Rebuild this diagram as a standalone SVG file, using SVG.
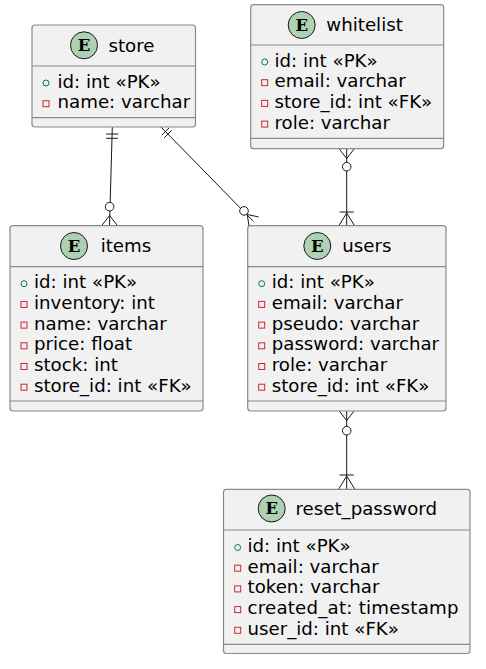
<svg xmlns="http://www.w3.org/2000/svg" width="486" height="669" viewBox="0 0 486 669">
<style>
.box{fill:#F1F1F1;stroke:#8a8a8a;stroke-width:1.2}
.sep{stroke:#8a8a8a;stroke-width:1.2}
.ic{fill:#ADD1B2;stroke:#181818;stroke-width:1}
.E{font-family:"DejaVu Serif",serif;font-weight:bold;font-size:16.5px;fill:#000;text-anchor:middle}
.t{font-family:"DejaVu Sans",sans-serif;font-size:18.2px;fill:#000}
.a{font-family:"DejaVu Sans",sans-serif;font-size:18.2px;fill:#000}
.pk{fill:none;stroke:#038048;stroke-width:1}
.pv{fill:none;stroke:#C82930;stroke-width:1}
.c{fill:none;stroke:#181818;stroke-width:1}
.cc{fill:#fff;stroke:#181818;stroke-width:1}
</style>
<rect width="486" height="669" fill="#fff"/>
<g id="connectors">
  <!-- store -> items -->
  <path class="c" d="M112.3,127 L109.5,226"/>
  <path class="c" d="M106.2,134 L118.2,134 M106.1,138.3 L118.1,138.3"/>
  <path class="c" d="M101.3,226 L109.6,215.5 L117.8,226"/>
  <circle class="cc" cx="109.6" cy="206.7" r="4.3"/>
  <!-- store -> users -->
  <path class="c" d="M161,127 L253.5,221.5"/>
  <path class="c" d="M161.8,135.2 L169.2,127.8 M164.3,137.7 L171.7,130.3"/>
  <path class="c" d="M249,226.3 L247.3,214.5 L258.5,216.9"/>
  <circle class="cc" cx="244" cy="210.9" r="4.3"/>
  <!-- whitelist -> users -->
  <path class="c" d="M346.7,149 L346.7,226"/>
  <path class="c" d="M339.3,149 L346.7,158.5 L354.1,149"/>
  <circle class="cc" cx="346.7" cy="166.7" r="4.3"/>
  <path class="c" d="M339.6,212 L353.8,212"/>
  <path class="c" d="M338.7,226 L346.7,213 L354.7,226"/>
  <!-- users -> reset_password -->
  <path class="c" d="M346.7,411 L346.7,489"/>
  <path class="c" d="M339.3,411 L346.7,420.5 L354.1,411"/>
  <circle class="cc" cx="346.7" cy="430.7" r="4.3"/>
  <path class="c" d="M339.6,475 L353.8,475"/>
  <path class="c" d="M338.7,489 L346.7,476 L354.7,489"/>
</g>
<g id="store">
  <rect class="box" x="32" y="25" width="163.5" height="102" rx="3"/>
  <path class="sep" d="M32,66 H195.5 M32,117.7 H195.5"/>
  <circle class="ic" cx="84" cy="45.3" r="13.5"/>
  <text class="E" x="84" y="51.2">E</text>
  <text class="t" x="108.5" y="51.5">store</text>
  <circle class="pk" cx="46" cy="83" r="3"/>
  <text class="a" x="57.5" y="87.5">id: int «PK»</text>
  <rect class="pv" x="43" y="100.7" width="6" height="6"/>
  <text class="a" x="57.5" y="108.2">name: varchar</text>
</g>
<g id="whitelist">
  <rect class="box" x="250.7" y="4.7" width="193" height="144" rx="3"/>
  <path class="sep" d="M250.7,45 H443.7 M250.7,138.3 H443.7"/>
  <circle class="ic" cx="301.7" cy="25" r="13.5"/>
  <text class="E" x="301.7" y="30.9">E</text>
  <text class="t" x="326.3" y="31.2">whitelist</text>
  <circle class="pk" cx="264.7" cy="62" r="3"/>
  <text class="a" x="274.5" y="66.5">id: int «PK»</text>
  <rect class="pv" x="261.7" y="79.7" width="6" height="6"/>
  <text class="a" x="274.5" y="87.2">email: varchar</text>
  <rect class="pv" x="261.7" y="100.4" width="6" height="6"/>
  <text class="a" x="274.5" y="107.9">store_id: int «FK»</text>
  <rect class="pv" x="261.7" y="121.1" width="6" height="6"/>
  <text class="a" x="274.5" y="128.6">role: varchar</text>
</g>
<g id="items">
  <rect class="box" x="10" y="225.7" width="193" height="185.3" rx="3"/>
  <path class="sep" d="M10,266.7 H203 M10,401 H203"/>
  <circle class="ic" cx="74" cy="246" r="13.5"/>
  <text class="E" x="74" y="251.9">E</text>
  <text class="t" x="100.7" y="252.2">items</text>
  <circle class="pk" cx="24" cy="283.7" r="3"/>
  <text class="a" x="34" y="288.2">id: int «PK»</text>
  <rect class="pv" x="21" y="301.4" width="6" height="6"/>
  <text class="a" x="34" y="308.9">inventory: int</text>
  <rect class="pv" x="21" y="322.1" width="6" height="6"/>
  <text class="a" x="34" y="329.6">name: varchar</text>
  <rect class="pv" x="21" y="342.8" width="6" height="6"/>
  <text class="a" x="34" y="350.3">price: float</text>
  <rect class="pv" x="21" y="363.5" width="6" height="6"/>
  <text class="a" x="34" y="371">stock: int</text>
  <rect class="pv" x="21" y="384.2" width="6" height="6"/>
  <text class="a" x="34" y="391.7">store_id: int «FK»</text>
</g>
<g id="users">
  <rect class="box" x="247.7" y="225.7" width="198.3" height="185.3" rx="3"/>
  <path class="sep" d="M247.7,266.7 H446 M247.7,401 H446"/>
  <circle class="ic" cx="317.3" cy="246" r="13.5"/>
  <text class="E" x="317.3" y="251.9">E</text>
  <text class="t" x="342.3" y="252.2">users</text>
  <circle class="pk" cx="261.7" cy="283.7" r="3"/>
  <text class="a" x="271.7" y="288.2">id: int «PK»</text>
  <rect class="pv" x="258.7" y="301.4" width="6" height="6"/>
  <text class="a" x="271.7" y="308.9">email: varchar</text>
  <rect class="pv" x="258.7" y="322.1" width="6" height="6"/>
  <text class="a" x="271.7" y="329.6">pseudo: varchar</text>
  <rect class="pv" x="258.7" y="342.8" width="6" height="6"/>
  <text class="a" x="271.7" y="350.3">password: varchar</text>
  <rect class="pv" x="258.7" y="363.5" width="6" height="6"/>
  <text class="a" x="271.7" y="371">role: varchar</text>
  <rect class="pv" x="258.7" y="384.2" width="6" height="6"/>
  <text class="a" x="271.7" y="391.7">store_id: int «FK»</text>
</g>
<g id="reset_password">
  <rect class="box" x="223.5" y="489.3" width="246.5" height="164.2" rx="3"/>
  <path class="sep" d="M223.5,530 H470 M223.5,644.3 H470"/>
  <circle class="ic" cx="271.7" cy="508.5" r="13.5"/>
  <text class="E" x="271.7" y="514.4">E</text>
  <text class="t" x="295.5" y="515">reset_password</text>
  <circle class="pk" cx="237.7" cy="547.5" r="3"/>
  <text class="a" x="247.5" y="552">id: int «PK»</text>
  <rect class="pv" x="234.7" y="565.2" width="6" height="6"/>
  <text class="a" x="247.5" y="572.7">email: varchar</text>
  <rect class="pv" x="234.7" y="585.9" width="6" height="6"/>
  <text class="a" x="247.5" y="593.4">token: varchar</text>
  <rect class="pv" x="234.7" y="606.6" width="6" height="6"/>
  <text class="a" x="247.5" y="614.1" textLength="211" lengthAdjust="spacing">created_at: timestamp</text>
  <rect class="pv" x="234.7" y="627.3" width="6" height="6"/>
  <text class="a" x="247.5" y="634.8">user_id: int «FK»</text>
</g>
</svg>
